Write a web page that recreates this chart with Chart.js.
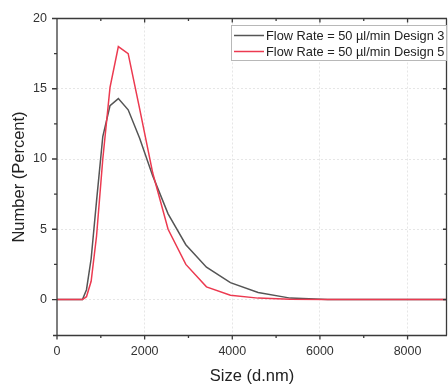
<!DOCTYPE html>
<html><head><meta charset="utf-8">
<script src="https://cdn.jsdelivr.net/npm/chart.js@4.4.0/dist/chart.umd.min.js"></script>
<style>html,body{margin:0;padding:0;background:#fff}#wrap{width:448px;height:391px}</style>
</head><body><div id="wrap"><canvas id="c" width="448" height="391"></canvas></div>
<script>
const sizes = [0, 500, 581, 673, 779, 902, 1045, 1210, 1400, 1624, 1884, 2185, 2535, 2940, 3411, 3957, 4590, 5324, 6176, 7164, 8310, 9640];
const design3 = [0, 0, 0, 0.7, 2.9, 7.0, 11.6, 13.8, 14.3, 13.5, 11.5, 8.8, 6.1, 3.9, 2.3, 1.2, 0.5, 0.1, 0, 0, 0, 0];
const design5 = [0, 0, 0, 0.2, 1.3, 4.5, 10.0, 15.1, 18.0, 17.5, 13.6, 9.0, 5.0, 2.5, 0.9, 0.3, 0.1, 0.02, 0, 0, 0, 0];
const seriesLabels = ['Flow Rate = 50 µl/min Design 3', 'Flow Rate = 50 µl/min Design 5'];
const seriesColors = ['#555555', '#ec3a50'];
const xMajor = [0, 2000, 4000, 6000, 8000];
const xMinor = [1000, 3000, 5000, 7000];
const yMajor = [0, 5, 10, 15, 20];
const yMinor = [2.5, 7.5, 12.5, 17.5];
const xTitle = 'Size (d.nm)';
const yTitle = 'Number (Percent)';

const FONT = '"Liberation Sans", Arial, sans-serif';
const AX = '#3a3a3a';

const framePlugin = {
  id: 'frame',
  afterDatasetsDraw(chart) {
    const {ctx, chartArea: a, scales: {x, y}} = chart;
    ctx.save();
    ctx.strokeStyle = AX;
    ctx.lineWidth = 1.3;
    ctx.beginPath();
    ctx.moveTo(a.left, a.top); ctx.lineTo(a.left, a.bottom + 4);
    ctx.moveTo(a.left - 4, a.bottom); ctx.lineTo(a.right, a.bottom);
    ctx.moveTo(a.left, a.top); ctx.lineTo(a.right, a.top);
    ctx.moveTo(a.right - 0.5, a.top); ctx.lineTo(a.right - 0.5, a.bottom);
    xMajor.forEach(v => { const p = x.getPixelForValue(v);
      ctx.moveTo(p, a.bottom); ctx.lineTo(p, a.bottom + 4);
      ctx.moveTo(p, a.top); ctx.lineTo(p, a.top + 4); });
    xMinor.forEach(v => { const p = x.getPixelForValue(v);
      ctx.moveTo(p, a.bottom); ctx.lineTo(p, a.bottom + 2.5);
      ctx.moveTo(p, a.top); ctx.lineTo(p, a.top + 2.5); });
    yMajor.forEach(v => { const p = y.getPixelForValue(v);
      ctx.moveTo(a.left - 5, p); ctx.lineTo(a.left, p);
      ctx.moveTo(a.right - 4, p); ctx.lineTo(a.right, p); });
    yMinor.forEach(v => { const p = y.getPixelForValue(v);
      ctx.moveTo(a.left - 3, p); ctx.lineTo(a.left, p);
      ctx.moveTo(a.right - 2.5, p); ctx.lineTo(a.right, p); });
    ctx.stroke();

    const lx = 231, ly = 25, lw = 215, lh = 35;
    ctx.fillStyle = '#fff';
    ctx.fillRect(lx, ly, lw, lh);
    ctx.strokeStyle = '#b8b8b8';
    ctx.lineWidth = 1;
    ctx.strokeRect(lx + 0.5, ly + 0.5, lw, lh);
    ctx.font = '12.8px ' + FONT;
    ctx.textBaseline = 'middle';
    ctx.textAlign = 'left';
    seriesLabels.forEach((lab, i) => {
      const yy = ly + 10.5 + i * 16;
      ctx.strokeStyle = seriesColors[i];
      ctx.lineWidth = 1.5;
      ctx.beginPath(); ctx.moveTo(234, yy); ctx.lineTo(264, yy); ctx.stroke();
      ctx.fillStyle = '#222';
      ctx.fillText(lab, 266, yy + 0.5);
    });
    ctx.restore();
  }
};

new Chart(document.getElementById('c'), {
  type: 'line',
  data: {
    datasets: [
      { label: seriesLabels[0], data: sizes.map((s, i) => ({x: s, y: design3[i]})),
        borderColor: seriesColors[0], borderWidth: 1.5, pointRadius: 0, tension: 0, order: 1 },
      { label: seriesLabels[1], data: sizes.map((s, i) => ({x: s, y: design5[i]})),
        borderColor: seriesColors[1], borderWidth: 1.5, pointRadius: 0, tension: 0, order: 0 }
    ]
  },
  options: {
    responsive: false,
    animation: false,
    devicePixelRatio: 1,
    layout: { padding: { top: 18.5, right: 1, left: 0, bottom: 0 } },
    plugins: { legend: { display: false }, tooltip: { enabled: false } },
    scales: {
      x: {
        type: 'linear', min: 0, max: 8900,
        afterBuildTicks: s => { s.ticks = xMajor.map(v => ({value: v})); },
        afterFit: s => { s.height = 55.5; },
        ticks: { callback: v => String(v), font: { family: FONT, size: 12.5 }, color: '#333', padding: 9, maxRotation: 0, autoSkip: false },
        grid: { drawTicks: false, color: c => (c.tick && c.tick.value > 0) ? '#e6e6e6' : 'rgba(0,0,0,0)', lineWidth: 1 },
        border: { display: false, dash: [2, 2] },
        title: { display: true, text: xTitle, font: { family: FONT, size: 16.5 }, color: '#222', padding: { top: 0, bottom: 5 } }
      },
      y: {
        type: 'linear', min: -2.56, max: 20,
        afterBuildTicks: s => { s.ticks = yMajor.map(v => ({value: v})); },
        afterFit: s => { s.width = 57; },
        ticks: { callback: v => String(v), font: { family: FONT, size: 12.5 }, color: '#333', padding: 10 },
        grid: { drawTicks: false, color: c => (c.tick && c.tick.value < 20) ? '#e6e6e6' : 'rgba(0,0,0,0)', lineWidth: 1 },
        border: { display: false, dash: [2, 2] },
        title: { display: true, text: yTitle, font: { family: FONT, size: 16.5 }, color: '#222', padding: { top: 9.5, bottom: 0 } }
      }
    }
  },
  plugins: [framePlugin]
});
</script></body></html>
